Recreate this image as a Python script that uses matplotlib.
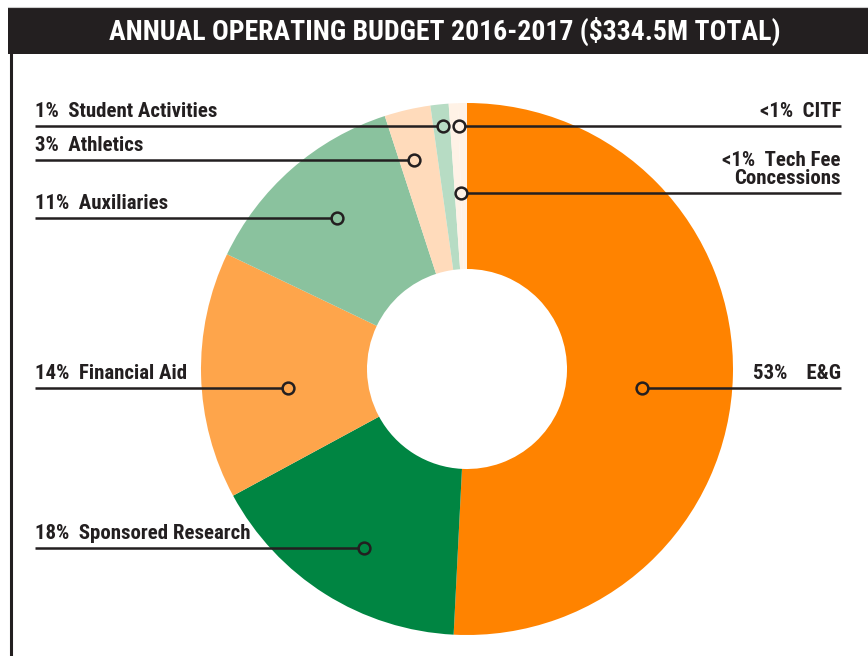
import matplotlib.pyplot as plt
from matplotlib.patches import Rectangle

# budget shares (clockwise from 12 o'clock)
categories = ["E&G", "Sponsored Research", "Financial Aid", "Auxiliaries",
              "Athletics", "Student Activities", "CITF", "Tech Fee Concessions"]
shares = [50.8, 16.3, 15.0, 12.9, 2.8, 1.1, 0.55, 0.55]
pct_labels = ["53%", "18%", "14%", "11%", "3%", "1%", "<1%", "<1%"]
colors = ["#ff8300", "#008542", "#fea54b", "#8ac29e",
          "#ffdbbb", "#b7dcc4", "#fff2e6", "#fff2e6"]

title = "ANNUAL OPERATING BUDGET 2016-2017 ($334.5M TOTAL)"

W, H = 868, 656
ink = "#231f20"
font = ["Roboto Condensed", "DejaVu Sans"]

# layout in pixels (y measured from the top)
cx, cy, r_out, r_in = 467, 369, 266, 100
# side, line y, dot x, label text
callouts = [
    ("right", 388, 642, "53%    E&G"),
    ("left", 548, 364, "18%  Sponsored Research"),
    ("left", 388, 288, "14%  Financial Aid"),
    ("left", 218, 337, "11%  Auxiliaries"),
    ("left", 160, 414, "3%  Athletics"),
    ("left", 126, 443, "1%  Student Activities"),
    ("right", 126, 459, "<1%  CITF"),
    ("right", 193, 461, "<1%  Tech Fee\nConcessions"),
]


def py(y):
    return H - y


fig = plt.figure(figsize=(W / 100, H / 100), dpi=100)
ax = fig.add_axes([0, 0, 1, 1])

ax.pie(shares, colors=colors, startangle=90, counterclock=False,
       center=(cx, py(cy)), radius=r_out,
       wedgeprops=dict(width=r_out - r_in, linewidth=0))

# title bar and frame
ax.add_patch(Rectangle((8, py(54)), W - 8, 46, facecolor=ink, edgecolor="none"))
ax.plot([8, W], [py(7), py(7)], color="#cccccc", lw=0.8)
ax.plot([10.5, 10.5], [py(54), 0], color=ink, lw=2.2)
ax.text(445, py(31), title, color="white", fontsize=20, fontweight="bold",
        family=font, fontstretch="condensed", ha="center", va="center")

for side, ly, dx, txt in callouts:
    if side == "left":
        ax.plot([35, dx - 5], [py(ly), py(ly)], color=ink, lw=1.8,
                solid_capstyle="butt")
        ax.text(35, py(ly - 9), txt, color=ink, fontsize=15, fontweight="bold",
                family=font, fontstretch="condensed", ha="left", va="baseline")
    else:
        ax.plot([dx + 5, 841], [py(ly), py(ly)], color=ink, lw=1.8,
                solid_capstyle="butt")
        ax.text(841, py(ly - 9), txt, color=ink, fontsize=15, fontweight="bold",
                family=font, fontstretch="condensed", ha="right",
                va="baseline", linespacing=0.95, multialignment="right")
    ax.plot(dx, py(ly), marker="o", ms=8.5, mfc="none", mec=ink, mew=1.8)

ax.set_xlim(0, W)
ax.set_ylim(0, H)
ax.axis("off")

fig.savefig("out.png", dpi=100)
